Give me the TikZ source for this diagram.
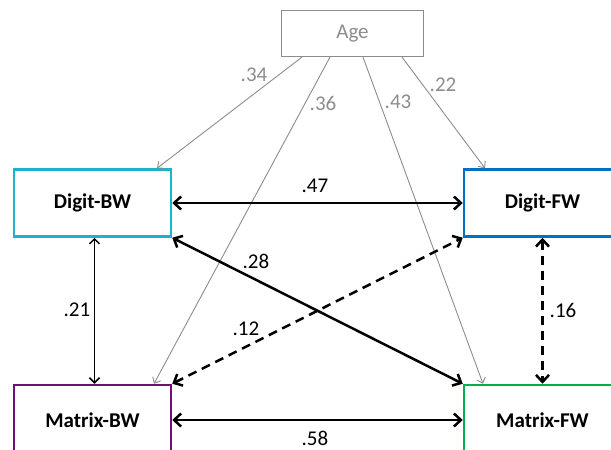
\documentclass[tikz,border=0pt]{standalone}
\usepackage{fontspec}
\setmainfont{Carlito}
\usetikzlibrary{arrows.meta}
\definecolor{agegray}{RGB}{140,140,140}
\definecolor{bwcyan}{RGB}{25,180,200}
\definecolor{fwblue}{RGB}{0,112,192}
\definecolor{bwpurple}{RGB}{112,16,112}
\definecolor{fwgreen}{RGB}{0,176,80}
\begin{document}
\begin{tikzpicture}[x=1pt,y=1pt]
	\tikzstyle{every node}+=[inner sep=0pt, font=\fontsize{21}{24}\selectfont]
	\tikzstyle{varbox}=[draw, line width=2.5pt, minimum width=157pt, minimum height=67pt, font=\fontsize{21}{24}\selectfont\bfseries]
	\tikzstyle{agebox}=[draw=agegray, text=agegray, line width=1.2pt, minimum width=142pt, minimum height=46pt]
	\tikzstyle{agearrow}=[agegray, line width=0.9pt, -{Straight Barb[length=5pt,width=9pt]}]
	\tikzstyle{corr}=[black, line width=2.5pt, {Straight Barb[length=7pt,width=13pt]}-{Straight Barb[length=7pt,width=13pt]}]
	\tikzstyle{thincorr}=[black, line width=1.5pt, {Straight Barb[length=5pt,width=10pt]}-{Straight Barb[length=5pt,width=10pt]}]
	\tikzstyle{weak}=[dash pattern=on 9pt off 6pt]
	\clip (0,0) rectangle (611,-450);
	\draw (352.5,-33.5) node (age) [agebox] {Age};
	\draw (92.5,-203) node (digitbw) [varbox, draw=bwcyan] {Digit-BW};
	\draw (542.5,-203) node (digitfw) [varbox, draw=fwblue] {Digit-FW};
	\draw (92.5,-420) node (matrixbw) [varbox, draw=bwpurple, minimum height=70pt] {Matrix-BW};
	\draw (542.5,-420) node (matrixfw) [varbox, draw=fwgreen, minimum height=70pt] {Matrix-FW};
	\draw [agearrow] ([xshift=-50.5pt]age.south) -- ([xshift=64.5pt]digitbw.north);
	\draw [agearrow] ([xshift=-22.5pt]age.south) -- ([xshift=61.5pt]matrixbw.north);
	\draw [agearrow] ([xshift=10.5pt]age.south) -- ([xshift=-59.5pt]matrixfw.north);
	\draw [agearrow] ([xshift=49.5pt]age.south) -- ([xshift=-57.5pt]digitfw.north);
	\draw [corr] (digitbw.east) -- (digitfw.west);
	\draw [corr] (matrixbw.east) -- (matrixfw.west);
	\draw [thincorr] ([xshift=2pt]digitbw.south) -- ([xshift=2pt]matrixbw.north);
	\draw [corr, weak] (digitfw.south) -- (matrixfw.north);
	\draw [corr] (digitbw.south east) -- (matrixfw.north west);
	\draw [corr, weak] (matrixbw.north east) -- (digitfw.south west);
	\draw (254,-75) node (l34) [text=agegray] {.34};
	\draw (323,-103) node (l36) [text=agegray] {.36};
	\draw (398,-102) node (l43) [text=agegray] {.43};
	\draw (443,-85) node (l22) [text=agegray] {.22};
	\draw (315,-186) node (l47) {.47};
	\draw (315,-438) node (l58) {.58};
	\draw (77,-310) node (l21) {.21};
	\draw (563,-310) node (l16) {.16};
	\draw (256,-261) node (l28) {.28};
	\draw (246,-329) node (l12) {.12};
\end{tikzpicture}
\end{document}
